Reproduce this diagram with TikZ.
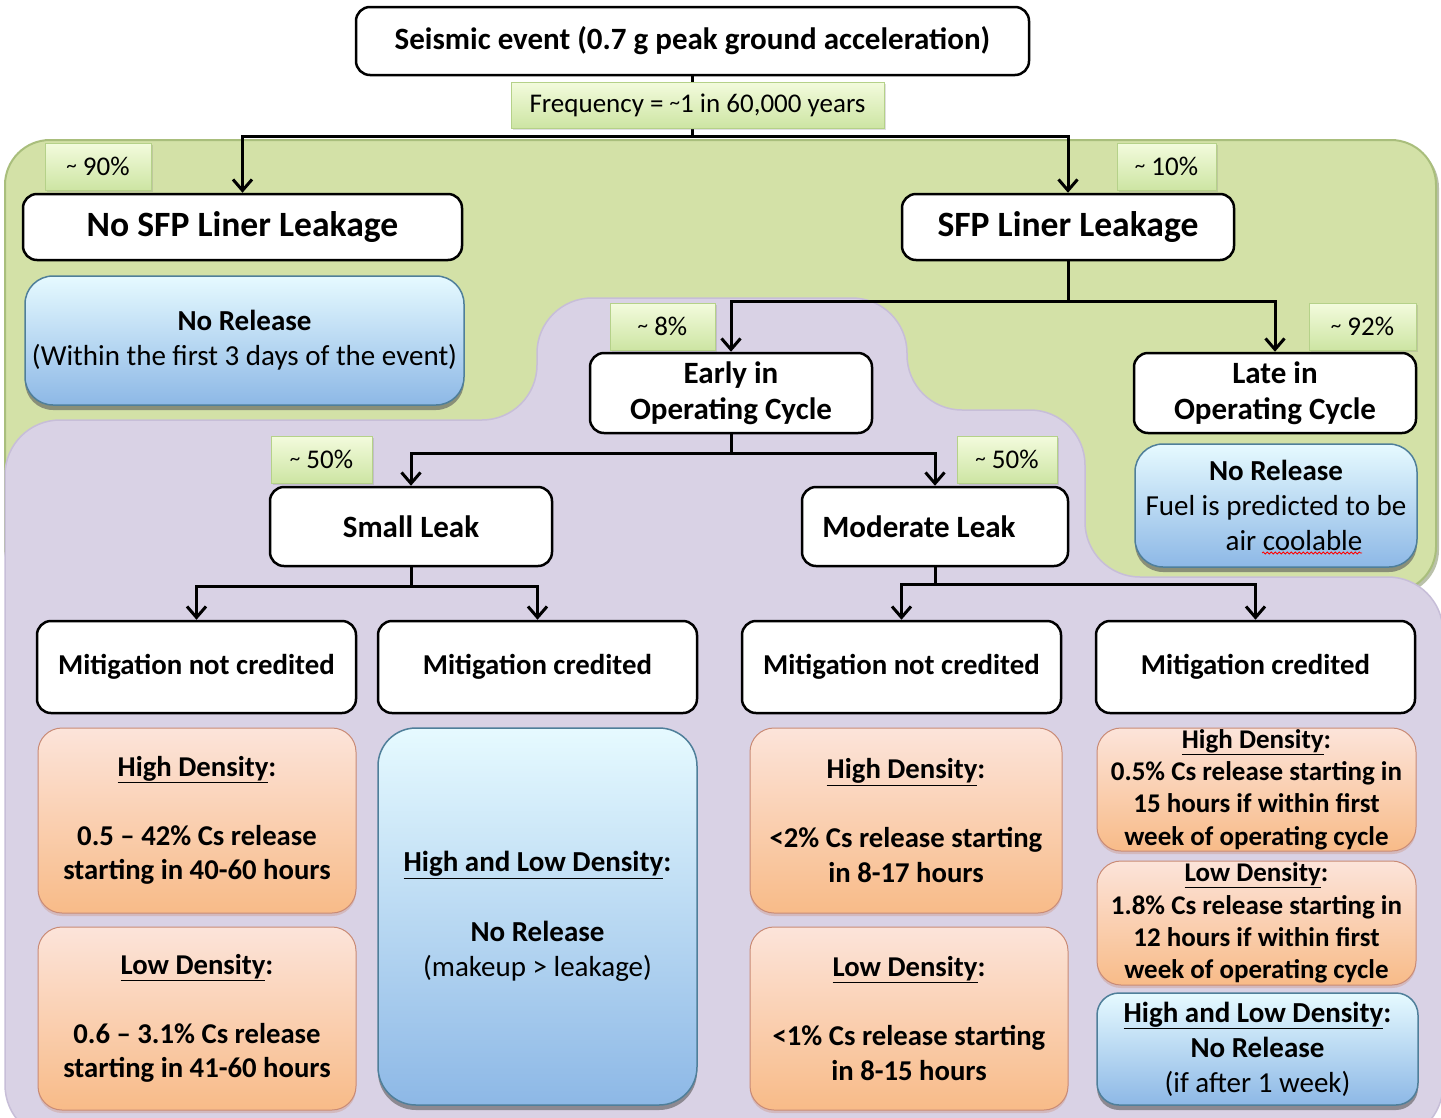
\documentclass[tikz,border=0pt]{standalone}
\usepackage{fontspec}
\setmainfont{Carlito}
\usetikzlibrary{arrows.meta,shadows,decorations.pathmorphing}
\definecolor{fieldGreen}{HTML}{D3E1A7}
\definecolor{fieldGreenEdge}{HTML}{A9BE7C}
\definecolor{fieldLilac}{HTML}{D9D2E5}
\definecolor{fieldLilacEdge}{HTML}{C7BED8}
\definecolor{tagTop}{HTML}{F3FBDD}
\definecolor{tagBottom}{HTML}{CDE5A3}
\definecolor{tagEdge}{HTML}{B5D189}
\definecolor{doseTop}{HTML}{FCE4DA}
\definecolor{doseBottom}{HTML}{F8BB88}
\definecolor{doseEdge}{HTML}{C98B76}
\definecolor{safeTop}{HTML}{E6FAFF}
\definecolor{safeBottom}{HTML}{8DB8E6}
\definecolor{safeEdge}{HTML}{4F7F9A}
\newcommand{\aboutmark}{\raisebox{3pt}{\fontsize{21}{21}\selectfont\textasciitilde}}

\begin{document}
\begin{tikzpicture}[x=1pt,y=-1pt,
    >={Straight Barb[length=11pt,width=19pt]},
    link/.style={line width=3pt},
    tree/.style={draw, line width=2.5pt, rounded corners=14pt, fill=white,
      align=center, inner sep=0pt, font=\bfseries\fontsize{31}{36}\selectfont},
    tag/.style={draw=tagEdge, line width=1pt, top color=tagTop, bottom color=tagBottom,
      inner sep=0pt, font=\fontsize{27}{32}\selectfont,
      drop shadow={opacity=0.25, shadow xshift=2pt, shadow yshift=-2pt}},
    dose/.style={draw=doseEdge, line width=1pt, rounded corners=24pt,
      top color=doseTop, bottom color=doseBottom, align=center, inner sep=0pt,
      font=\bfseries\fontsize{28.7}{34.5}\selectfont,
      drop shadow={opacity=0.35, shadow xshift=0pt, shadow yshift=-3pt, fill=doseEdge}},
    safe/.style={draw=safeEdge, line width=1.5pt, rounded corners=28pt,
      top color=safeTop, bottom color=safeBottom, align=center, inner sep=0pt,
      font=\fontsize{29}{35}\selectfont,
      drop shadow={opacity=0.6, shadow xshift=0pt, shadow yshift=-5pt, fill=black!65}}]
  \useasboundingbox (0,0) rectangle (1441,1117);
  \clip (0,0) rectangle (1441,1117);
  \fill[white] (0,0) rectangle (1441,1117);

  % background fields
  \draw[fieldGreenEdge, fill=fieldGreen, line width=2pt, rounded corners=45pt,
    drop shadow={opacity=0.5, shadow xshift=3pt, shadow yshift=-3pt, fill=fieldGreenEdge!70!black}]
    (5,140) rectangle (1436,592);
  \draw[fieldLilacEdge, fill=fieldLilac, line width=1.5pt, rounded corners=55pt]
    (5,1140) -- (5,420) -- (537,420) -- (537,298) -- (907,298) -- (907,410)
    -- (1085,410) -- (1085,577) -- (1443,577) -- (1443,1140) -- cycle;

  % event tree
  \node[tree, minimum width=673pt, minimum height=68pt] (seismic) at (692.5,41)
    {Seismic event (0.7 g peak ground acceleration)};
  \node[tree, minimum width=439pt, minimum height=66pt, font=\bfseries\fontsize{35.6}{42}\selectfont]
    (nosfp) at (242.5,227) {No SFP Liner Leakage};
  \node[tree, minimum width=332pt, minimum height=66pt, font=\bfseries\fontsize{35.6}{42}\selectfont]
    (sfp) at (1068,227) {SFP Liner Leakage};
  \node[safe, minimum width=439pt, minimum height=129pt] (norelA) at (244.5,340.5)
    {\textbf{No Release}\\(Within the first 3 days of the event)};
  \node[tree, minimum width=282pt, minimum height=80pt] (early) at (731,393)
    {Early in\\Operating Cycle};
  \node[tree, minimum width=282pt, minimum height=80pt] (late) at (1275,393)
    {Late in\\Operating Cycle};
  \node[safe, minimum width=282pt, minimum height=123pt] (norelB) at (1276,505.5)
    {\textbf{No Release}\\Fuel is predicted to be\\\hspace*{36pt}air coolable};
  \node[tree, minimum width=282pt, minimum height=79pt] (small) at (411,526.5) {Small Leak};
  \node[tree, minimum width=266pt, minimum height=79pt] (moderate) at (935,526.5)
    {Moderate Leak\hspace*{32pt}};

  \foreach \n/\x/\t in {ncA/196.5/Mitigation not credited, cA/537.5/Mitigation credited,
                        ncB/901.5/Mitigation not credited, cB/1255.5/Mitigation credited}
    \node[tree, minimum width=319pt, minimum height=92pt, font=\bfseries\fontsize{28.8}{34}\selectfont]
      (\n) at (\x,667) {\t};

  % outcomes
  \node[dose, minimum width=318pt, minimum height=185pt] (hdA) at (197,820.5)
    {\underline{High Density}:\\[34.5pt]0.5 -- 42\% Cs release\\starting in 40-60 hours};
  \node[dose, minimum width=318pt, minimum height=183pt] (ldA) at (197,1018.5)
    {\underline{Low Density}:\\[34.5pt]0.6 -- 3.1\% Cs release\\starting in 41-60 hours};
  \node[safe, minimum width=319pt, minimum height=377pt, rounded corners=38pt] (norelC) at (537.5,916.5)
    {\textbf{\underline{High and Low Density}:}\\[34.5pt]\textbf{No Release}\\(makeup > leakage)};
  \node[dose, minimum width=312pt, minimum height=185pt] (hdB) at (906,820.5)
    {\underline{High Density}:\\[34.5pt]<2\% Cs release starting\\in 8-17 hours};
  \node[dose, minimum width=318pt, minimum height=183pt] (ldB) at (909,1018.5)
    {\underline{Low Density}:\\[34.5pt]<1\% Cs release starting\\in 8-15 hours};
  \node[dose, minimum width=319pt, minimum height=123pt, font=\bfseries\fontsize{27}{32.3}\selectfont]
    (hdC) at (1256.5,789.5)
    {\underline{High Density}:\\0.5\% Cs release starting in\\15 hours if within first\\week of operating cycle};
  \node[dose, minimum width=319pt, minimum height=124pt, font=\bfseries\fontsize{27}{32.3}\selectfont]
    (ldC) at (1256.5,923)
    {\underline{Low Density}:\\1.8\% Cs release starting in\\12 hours if within first\\week of operating cycle};
  \node[safe, minimum width=321pt, minimum height=112pt, rounded corners=22pt] (norelD) at (1257.5,1049)
    {\textbf{\underline{High and Low Density}:}\\\textbf{No Release}\\(if after 1 week)};

  % branches
  \coordinate (jA) at ([yshift=-60pt]seismic.south);
  \coordinate (jB) at ([yshift=-40pt]sfp.south);
  \coordinate (jC) at ([yshift=-19pt]early.south);
  \coordinate (jD) at ([yshift=-19pt]small.south);
  \coordinate (jE) at ([yshift=-17pt]moderate.south);
  \draw[link] (seismic.south) -- (jA);
  \draw[link,->] (jA) -| (nosfp.north);
  \draw[link,->] (jA) -| (sfp.north);
  \draw[link] (sfp.south) -- (jB);
  \draw[link,->] (jB) -| (early.north);
  \draw[link,->] (jB) -| (late.north);
  \draw[link] (early.south) -- (jC);
  \draw[link,->] (jC) -| (small.north);
  \draw[link,->] (jC) -| (moderate.north);
  \draw[link] (small.south) -- (jD);
  \draw[link,->] (jD) -| (ncA.north);
  \draw[link,->] (jD) -| (cA.north);
  \draw[link] (moderate.south) -- (jE);
  \draw[link,->] (jE) -| (ncB.north);
  \draw[link,->] (jE) -| (cB.north);

  % probabilities
  \node[tag, minimum width=373pt, minimum height=46pt] (freq) at (697.5,105)
    {Frequency = \aboutmark1 in 60,000 years};
  \node[tag, minimum width=106pt, minimum height=47pt] (p90) at (98,166.5) {\aboutmark\ 90\%};
  \node[tag, minimum width=99pt, minimum height=47pt] (p10) at (1166.5,166.5) {\aboutmark\ 10\%};
  \node[tag, minimum width=105pt, minimum height=47pt] (p8) at (662.5,326.5) {\aboutmark\ 8\%};
  \node[tag, minimum width=107pt, minimum height=47pt] (p92) at (1362.5,326.5) {\aboutmark\ 92\%};
  \node[tag, minimum width=101pt, minimum height=47pt] (p50a) at (321.5,459.5) {\aboutmark\ 50\%};
  \node[tag, minimum width=100pt, minimum height=47pt] (p50b) at (1007,459.5) {\aboutmark\ 50\%};

  \draw[red, line width=0.8pt, decorate, decoration={snake, amplitude=1pt, segment length=4pt}]
    (1262,553) -- (1362,553);
\end{tikzpicture}
\end{document}
